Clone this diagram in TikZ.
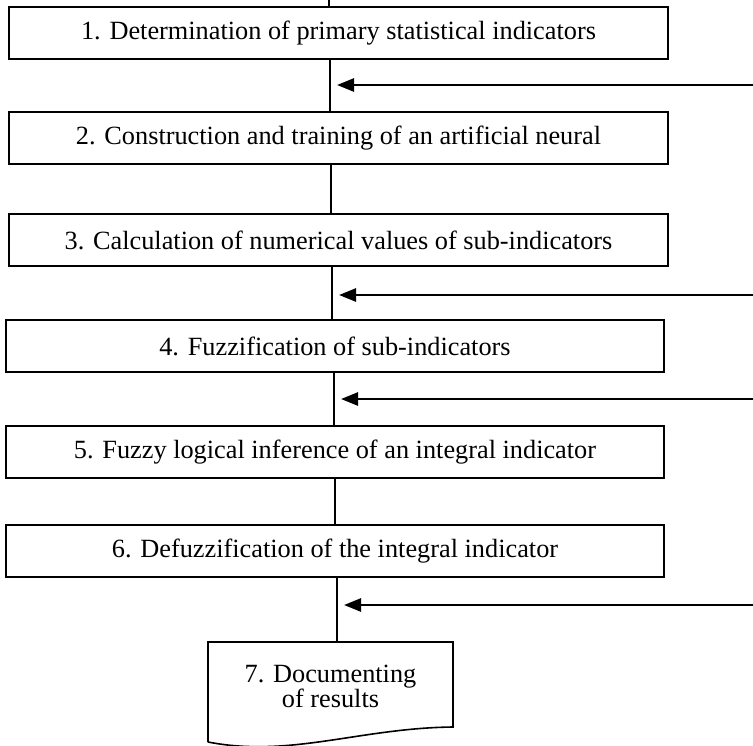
\documentclass[tikz,border=0pt]{standalone}
\usepackage{fontspec}
\setmainfont{Liberation Serif}
\usetikzlibrary{arrows.meta}
\begin{document}
\begin{tikzpicture}[x=1pt,y=-1pt,
  stepbox/.style={draw, line width=1.6pt, rectangle, inner sep=0pt,
    minimum height=52pt, font=\fontsize{26.3}{27}\selectfont, anchor=center},
  wide/.style={minimum width=659pt},
  conn/.style={draw, line width=1.2pt},
  feed/.style={draw, line width=2.6pt, -{Triangle[length=17pt,width=13pt]}}
]
\useasboundingbox (0,0) rectangle (753,745);
% boxes
\node[stepbox, wide] (b1) at (338.5,33) {1. Determination of primary statistical indicators};
\node[stepbox, wide] (b2) at (338.5,138) {2. Construction and training of an artificial neural};
\node[stepbox, wide] (b3) at (338.5,240) {3. Calculation of numerical values of sub-indicators};
\node[stepbox, minimum width=658pt] (b4) at (335,346) {4. Fuzzification of sub-indicators};
\node[stepbox, minimum width=658pt] (b5) at (335,452) {5. Fuzzy logical inference of an integral indicator};
\node[stepbox, minimum width=658pt] (b6) at (335,551) {6. Defuzzification of the integral indicator};
% document shape
\draw[line width=1.6pt] (208,742) -- (208,642) -- (453,642) -- (453,727)
  .. controls (360,728) and (290,758) .. (208,742);
\node[font=\fontsize{26.3}{25}\selectfont, align=center, inner sep=0pt] (b7) at (330.5,686) {7. Documenting\\of results};
\coordinate (b7top) at (337,642);
% vertical connectors
\coordinate (top) at (329,0);
\coordinate (l12) at (330,0);
\coordinate (l23) at (331,0);
\coordinate (l34) at (332,0);
\coordinate (l45) at (334,0);
\coordinate (l56) at (335,0);
\draw[conn] (top) -- (b1.north -| top);
\draw[conn] (b1.south -| l12) -- (b2.north -| l12);
\draw[conn] (b2.south -| l23) -- (b3.north -| l23);
\draw[conn] (b3.south -| l34) -- (b4.north -| l34);
\draw[conn] (b4.south -| l45) -- (b5.north -| l45);
\draw[conn] (b5.south -| l56) -- (b6.north -| l56);
\draw[conn] (b6.south -| b7top) -- (b7top);
% feedback arrows
\coordinate (s1) at (753,85);  \coordinate (t1) at (337,85);
\coordinate (s2) at (753,295); \coordinate (t2) at (339,295);
\coordinate (s3) at (753,399); \coordinate (t3) at (341,399);
\coordinate (s4) at (753,605); \coordinate (t4) at (344,605);
\draw[feed] (s1) -- (t1);
\draw[feed] (s2) -- (t2);
\draw[feed] (s3) -- (t3);
\draw[feed] (s4) -- (t4);
\end{tikzpicture}
\end{document}
